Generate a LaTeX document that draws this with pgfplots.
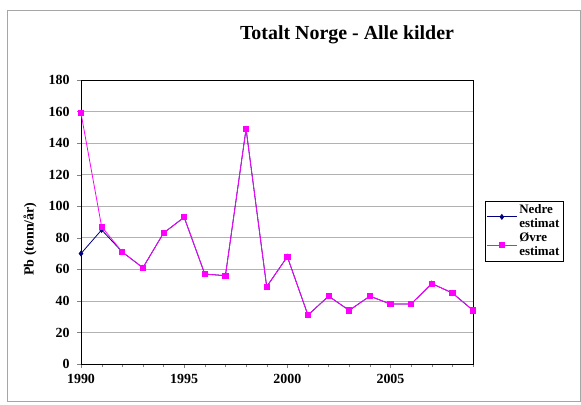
\documentclass[border=0pt]{standalone}
\usepackage{pgfplots}
\pgfplotsset{compat=1.18}
\usepackage{fontspec}
\setmainfont{Liberation Serif}
\definecolor{navyc}{HTML}{000080}
\definecolor{magc}{HTML}{FF00FF}
\begin{document}
\begin{tikzpicture}
\path[use as bounding box] (0bp,0bp) rectangle (581bp,405bp);
\draw[gray!70, line width=0.8bp] (7bp,4bp) rectangle (580.5bp,395bp);
\node[font=\bfseries\fontsize{20}{23}\selectfont] at (347bp,370bp) {Totalt Norge - Alle kilder};
\node[font=\bfseries\fontsize{14}{16}\selectfont, rotate=90] at (30bp,166bp) {Pb (tonn/år)};
\begin{axis}[
  at={(81bp,41bp)}, anchor=origin,
  scale only axis, width=392bp, height=284bp,
  xmin=1990, xmax=2009, ymin=0, ymax=180,
  xtick={1990,1995,2000,2005},
  minor xtick={1991,...,2009},
  ytick={0,20,...,180},
  xticklabel style={/pgf/number format/1000 sep={}, yshift=-3bp},
  yticklabel style={xshift=-4bp},
  /pgf/number format/assume math mode=true,
  tick label style={font=\bfseries\fontsize{14}{16}\selectfont},
  ymajorgrids, grid style={gray!60, line width=0.6bp},
  tick align=outside, tick pos=left,
  major tick length=4bp, minor tick length=3bp,
  axis line style={black},
  legend style={at={(rel axis cs:1.030,0.574)}, anchor=north west, font=\bfseries\fontsize{13}{14}\selectfont, nodes={align=left}, draw=black, inner sep=1.5bp, row sep=0bp, legend cell align=left},
  legend image code/.code={\draw[mark repeat=2,mark phase=2] plot coordinates {(0bp,0bp) (15bp,0bp) (30bp,0bp)};},
  clip=false,
]
\addplot[navyc, line width=0.8bp, mark=diamond*, mark size=2.4bp] coordinates {
(1990,70) (1991,85) (1992,71) (1993,61) (1994,83) (1995,93) (1996,57) (1997,56) (1998,149) (1999,49) (2000,68) (2001,31) (2002,43) (2003,34) (2004,43) (2005,38) (2006,38) (2007,51) (2008,45) (2009,34)};
\addlegendentry{Nedre\\estimat}
\addplot[magc, line width=0.8bp, mark=square*, mark size=2.6bp] coordinates {
(1990,159) (1991,87) (1992,71) (1993,61) (1994,83) (1995,93) (1996,57) (1997,56) (1998,149) (1999,49) (2000,68) (2001,31) (2002,43) (2003,34) (2004,43) (2005,38) (2006,38) (2007,51) (2008,45) (2009,34)};
\addlegendentry{Øvre\\estimat}
\end{axis}
\end{tikzpicture}
\end{document}
